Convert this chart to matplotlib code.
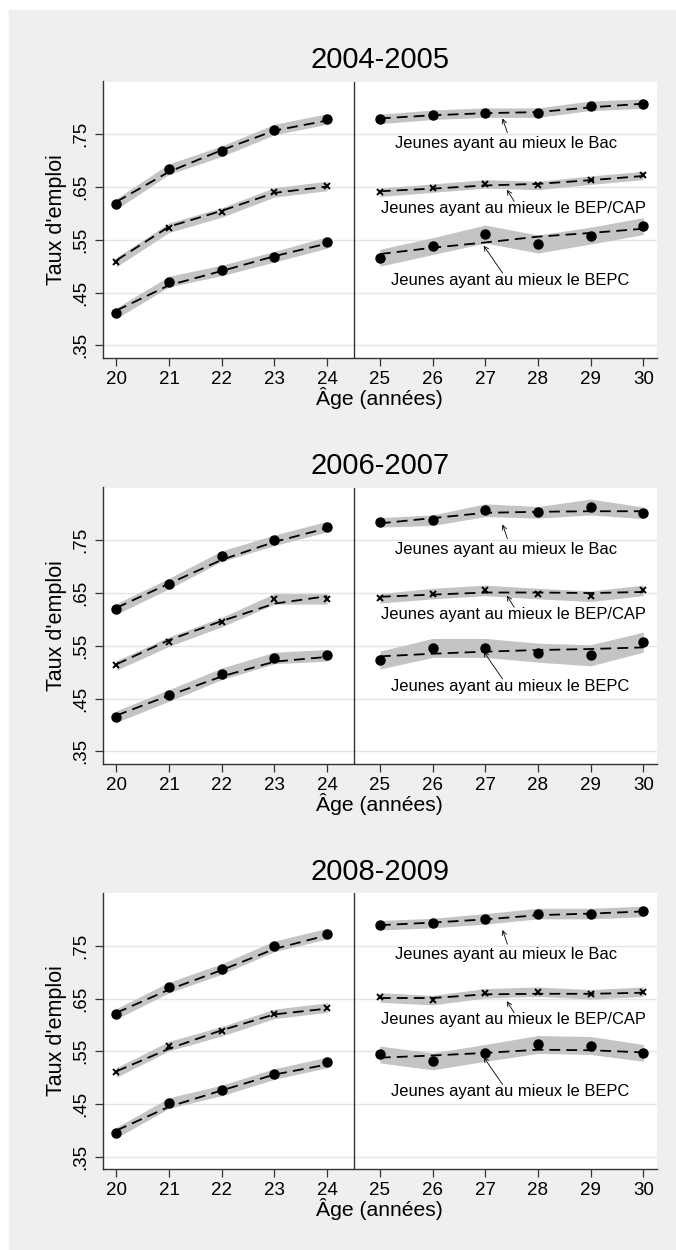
import matplotlib
matplotlib.use('Agg')
import matplotlib.pyplot as plt
from matplotlib.patches import Rectangle

plt.rcParams['font.family'] = ['Liberation Sans', 'DejaVu Sans']

ages = [20, 21, 22, 23, 24, 25, 26, 27, 28, 29, 30]
periods = ['2004-2005', '2006-2007', '2008-2009']
yticks = [.35, .45, .55, .65, .75]
ytick_labels = ['.35', '.45', '.55', '.65', '.75']
group_labels = ['Jeunes ayant au mieux le Bac',
                'Jeunes ayant au mieux le BEP/CAP',
                'Jeunes ayant au mieux le BEPC']

# 2004-2005
bac_0405 = [.618, .684, .718, .759, .779, .779, .787, .791, .791, .804, .808]
bac_fit_0405 = [.622, .679, .720, .757, .776, .780, .786, .790, .792, .801, .808]
bac_ci_0405 = [.010, .010, .010, .010, .010, .009, .009, .009, .009, .009, .009]
bep_0405 = [.508, .573, .602, .640, .652, .640, .648, .656, .653, .663, .672]
bep_fit_0405 = [.511, .575, .605, .639, .651, .642, .647, .653, .656, .663, .671]
bep_ci_0405 = [.009, .009, .009, .009, .009, .008, .008, .008, .008, .008, .008]
bepc_0405 = [.411, .471, .492, .518, .545, .516, .538, .561, .542, .558, .576]
bepc_fit_0405 = [.416, .464, .491, .519, .543, .523, .535, .545, .556, .563, .571]
bepc_ci_0405 = [.010, .010, .010, .010, .011, .016, .016, .017, .017, .016, .016]

# 2006-2007
bac_0607 = [.620, .668, .720, .750, .776, .784, .788, .807, .803, .813, .802]
bac_fit_0607 = [.622, .668, .713, .747, .773, .782, .792, .802, .804, .805, .805]
bac_ci_0607 = [.010, .010, .010, .010, .010, .009, .010, .012, .011, .015, .011]
bep_0607 = [.513, .558, .595, .639, .639, .640, .649, .655, .649, .644, .655]
bep_fit_0607 = [.515, .561, .597, .630, .644, .643, .647, .651, .651, .650, .652]
bep_ci_0607 = [.009, .009, .009, .010, .010, .009, .010, .010, .010, .010, .010]
bepc_0607 = [.416, .456, .497, .527, .532, .523, .546, .546, .537, .532, .557]
bepc_fit_0607 = [.418, .456, .492, .520, .529, .530, .535, .539, .542, .544, .547]
bepc_ci_0607 = [.011, .011, .011, .011, .011, .017, .018, .018, .018, .020, .019]

# 2008-2009
bac_0809 = [.621, .671, .706, .749, .773, .789, .793, .801, .811, .811, .815]
bac_fit_0809 = [.623, .667, .704, .744, .770, .789, .794, .800, .808, .811, .815]
bac_ci_0809 = [.010, .010, .010, .010, .010, .009, .009, .010, .010, .010, .010]
bep_0809 = [.510, .560, .588, .621, .633, .652, .647, .660, .663, .658, .663]
bep_fit_0809 = [.512, .555, .590, .620, .631, .651, .651, .658, .659, .659, .661]
bep_ci_0809 = [.009, .009, .009, .009, .009, .009, .009, .009, .009, .009, .009]
bepc_0809 = [.396, .452, .476, .507, .529, .544, .531, .547, .563, .561, .547]
bepc_fit_0809 = [.400, .445, .476, .506, .525, .538, .542, .547, .553, .552, .548]
bepc_ci_0809 = [.010, .010, .010, .010, .010, .016, .016, .016, .017, .017, .016]

# annotation text positions and arrows (tail -> head), data coords
text_pos = [(27.40, .733), (27.54, .610), (27.47, .4735)]
arrow_tail = [(27.42, .753), (27.55, .623), (27.33, .487)]
arrow_head = [(27.33, .780), (27.41, .645), (26.97, .539)]

W, H = 676, 1250
fig = plt.figure(figsize=(W / 100, H / 100), dpi=100)
fig.patch.set_facecolor('white')
fig.patches.append(Rectangle((9 / W, 0), 1 - 9 / W, 1 - 10 / H,
                             transform=fig.transFigure, color='#efefef', zorder=-10))

DARK = '#333333'
BAND = '#c4c4c4'
panel_tops = [81.5, 487.5, 893]
AX_L, AX_R, AX_H = 102.7, 657, 276


def draw_segment(ax, idx, vals, fit, ci, marker):
    x = [ages[i] for i in idx]
    v = [vals[i] for i in idx]
    f = [fit[i] for i in idx]
    lo = [vals[i] - ci[i] for i in idx]
    hi = [vals[i] + ci[i] for i in idx]
    ax.fill_between(x, lo, hi, color=BAND, lw=0, zorder=2)
    ax.plot(x, f, color='black', lw=1.3, dashes=(6, 3.4), zorder=3)
    if marker == 'o':
        ax.plot(x, v, 'o', color='black', ms=6.5, zorder=4)
    else:
        ax.plot(x, v, 'x', color='black', ms=4.2, mew=1.4, zorder=4)


def draw_panel(top_px, title, series):
    ax = fig.add_axes([AX_L / W, 1 - (top_px + AX_H) / H, (AX_R - AX_L) / W, AX_H / H])
    ax.set_facecolor('white')
    left = [0, 1, 2, 3, 4]
    right = [5, 6, 7, 8, 9, 10]
    for vals, fit, ci, marker in series:
        draw_segment(ax, left, vals, fit, ci, marker)
        draw_segment(ax, right, vals, fit, ci, marker)

    ax.axvline(24.5, color=DARK, lw=1.0, zorder=5)

    for k in range(3):
        ax.text(text_pos[k][0], text_pos[k][1], group_labels[k], ha='center', va='center',
                fontsize=11.9, zorder=6)
        ax.annotate('', xy=arrow_head[k], xytext=arrow_tail[k],
                    arrowprops=dict(arrowstyle='->', lw=0.6, color='black',
                                    shrinkA=0, shrinkB=0, mutation_scale=8), zorder=6)

    ax.set_xlim(19.74, 30.26)
    ax.set_ylim(0.327, 0.85)
    ax.set_xticks(ages)
    ax.set_yticks(yticks)
    ax.set_yticklabels(ytick_labels)
    ax.grid(axis='y', color='#e4e4e4', lw=1.0)
    ax.set_axisbelow(True)
    for s in ['top', 'right']:
        ax.spines[s].set_visible(False)
    for s in ['left', 'bottom']:
        ax.spines[s].set_color(DARK)
        ax.spines[s].set_linewidth(1.0)
    ax.tick_params(direction='out', length=5.5, width=0.9, color=DARK, labelsize=13.5)
    ax.tick_params(axis='x', pad=4)
    ax.tick_params(axis='y', pad=4.5)
    for t in ax.get_yticklabels():
        t.set_rotation(90)
        t.set_va('center')

    ax.set_ylabel("Taux d'emploi", fontsize=15.5)
    ax.yaxis.set_label_coords((56 - AX_L) / (AX_R - AX_L), 0.5)
    ax.yaxis.label.set_va('center')
    ax.set_xlabel('Âge (années)', fontsize=15.2)
    ax.xaxis.set_label_coords(0.5, -40.5 / AX_H)
    ax.xaxis.label.set_va('center')
    ax.text(0.5, 1 + 21 / AX_H, title, transform=ax.transAxes, ha='center', va='center',
            fontsize=21)
    return ax


draw_panel(panel_tops[0], periods[0], [
    (bac_0405, bac_fit_0405, bac_ci_0405, 'o'),
    (bep_0405, bep_fit_0405, bep_ci_0405, 'x'),
    (bepc_0405, bepc_fit_0405, bepc_ci_0405, 'o'),
])
draw_panel(panel_tops[1], periods[1], [
    (bac_0607, bac_fit_0607, bac_ci_0607, 'o'),
    (bep_0607, bep_fit_0607, bep_ci_0607, 'x'),
    (bepc_0607, bepc_fit_0607, bepc_ci_0607, 'o'),
])
draw_panel(panel_tops[2], periods[2], [
    (bac_0809, bac_fit_0809, bac_ci_0809, 'o'),
    (bep_0809, bep_fit_0809, bep_ci_0809, 'x'),
    (bepc_0809, bepc_fit_0809, bepc_ci_0809, 'o'),
])

fig.savefig('out.png', dpi=100, facecolor=fig.get_facecolor())
